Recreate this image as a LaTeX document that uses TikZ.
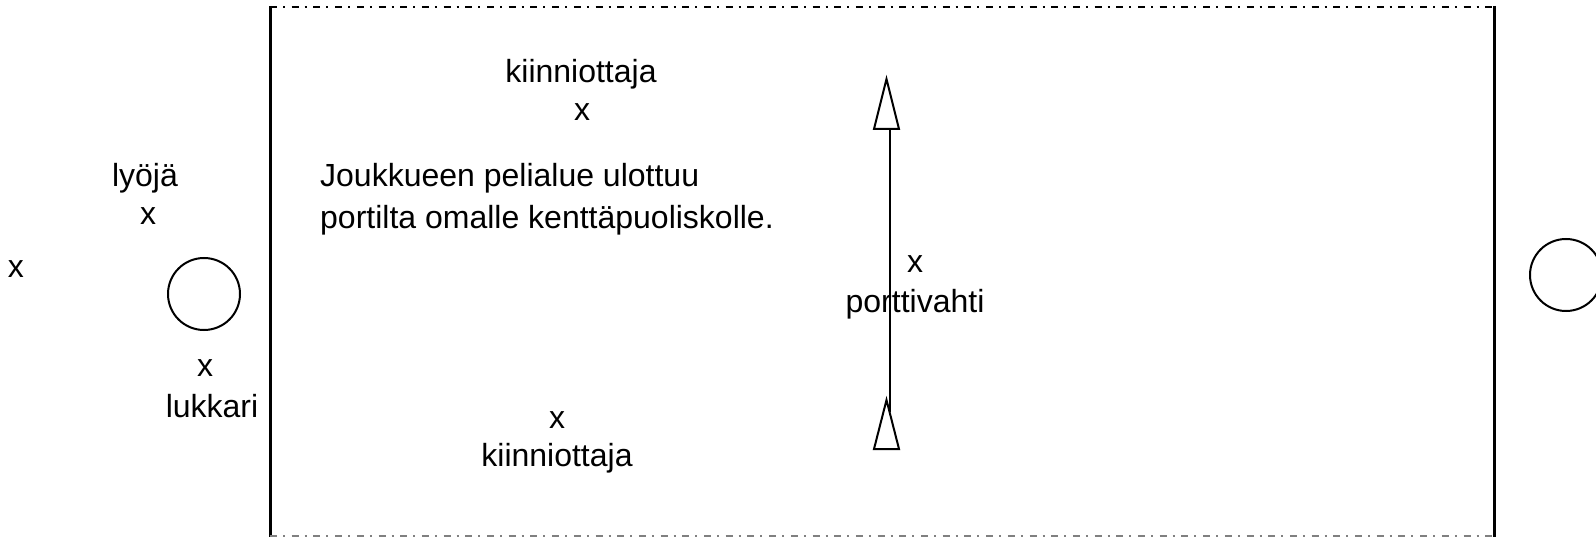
\documentclass[tikz,border=0pt]{standalone}
\usepackage{fontspec}
\setmainfont{Liberation Sans}
\begin{document}
\begin{tikzpicture}[x=1pt,y=-1pt,
  lbl/.style={inner sep=0pt,anchor=base,font=\fontsize{32}{39}\selectfont},
  wall/.style={line width=3pt},
  tri/.style={line width=2pt,fill=white,line join=miter},
  ring/.style={line width=2pt}]
\useasboundingbox (0,0) rectangle (1596,537);
% field border
\draw[wall] (270,6) -- (270,537);
\draw[wall] (1494,6) -- (1494,537);
\draw[line width=2.5pt,dash pattern=on 7pt off 6pt on 2pt off 6.7pt] (270,7) -- (1494,7);
\draw[line width=2pt,gray,dash pattern=on 7pt off 6pt on 2pt off 6.7pt] (270,536) -- (1494,536);
% circles
\node[ring,draw,circle,minimum size=72pt,inner sep=0pt] (home) at (204,294) {};
\node[ring,draw,circle,minimum size=72pt,inner sep=0pt] (base) at (1566,275) {};
% arrow
\coordinate (atop) at (890,129);
\coordinate (abot) at (890,412);
\draw[line width=2pt] (atop) -- (abot);
\draw[tri] (886.5,79) -- (899,129) -- (874,129) -- cycle;
\draw[tri,fill=none] (886.5,400) -- (899,449) -- (874,449) -- cycle;
% labels
\node[lbl] (k1) at (581,83) {kiinniottaja};
\node[lbl] (k1x) at (582,121) {x};
\node[lbl] (ly) at (145,187) {lyöjä};
\node[lbl] (lyx) at (148,225) {x};
\node[lbl] (ox) at (16,278) {x};
\node[lbl] (lux) at (205,376) {x};
\node[lbl] (lu) at (212,417) {lukkari};
\node[lbl,anchor=base west] (t1) at (320,187) {Joukkueen pelialue ulottuu};
\node[lbl,anchor=base west] (t2) at (320,229) {portilta omalle kenttäpuoliskolle.};
\node[lbl] (px) at (915,273) {x};
\node[lbl] (pv) at (915,313) {porttivahti};
\node[lbl] (k2x) at (557,428) {x};
\node[lbl] (k2) at (557,466) {kiinniottaja};
\end{tikzpicture}
\end{document}
